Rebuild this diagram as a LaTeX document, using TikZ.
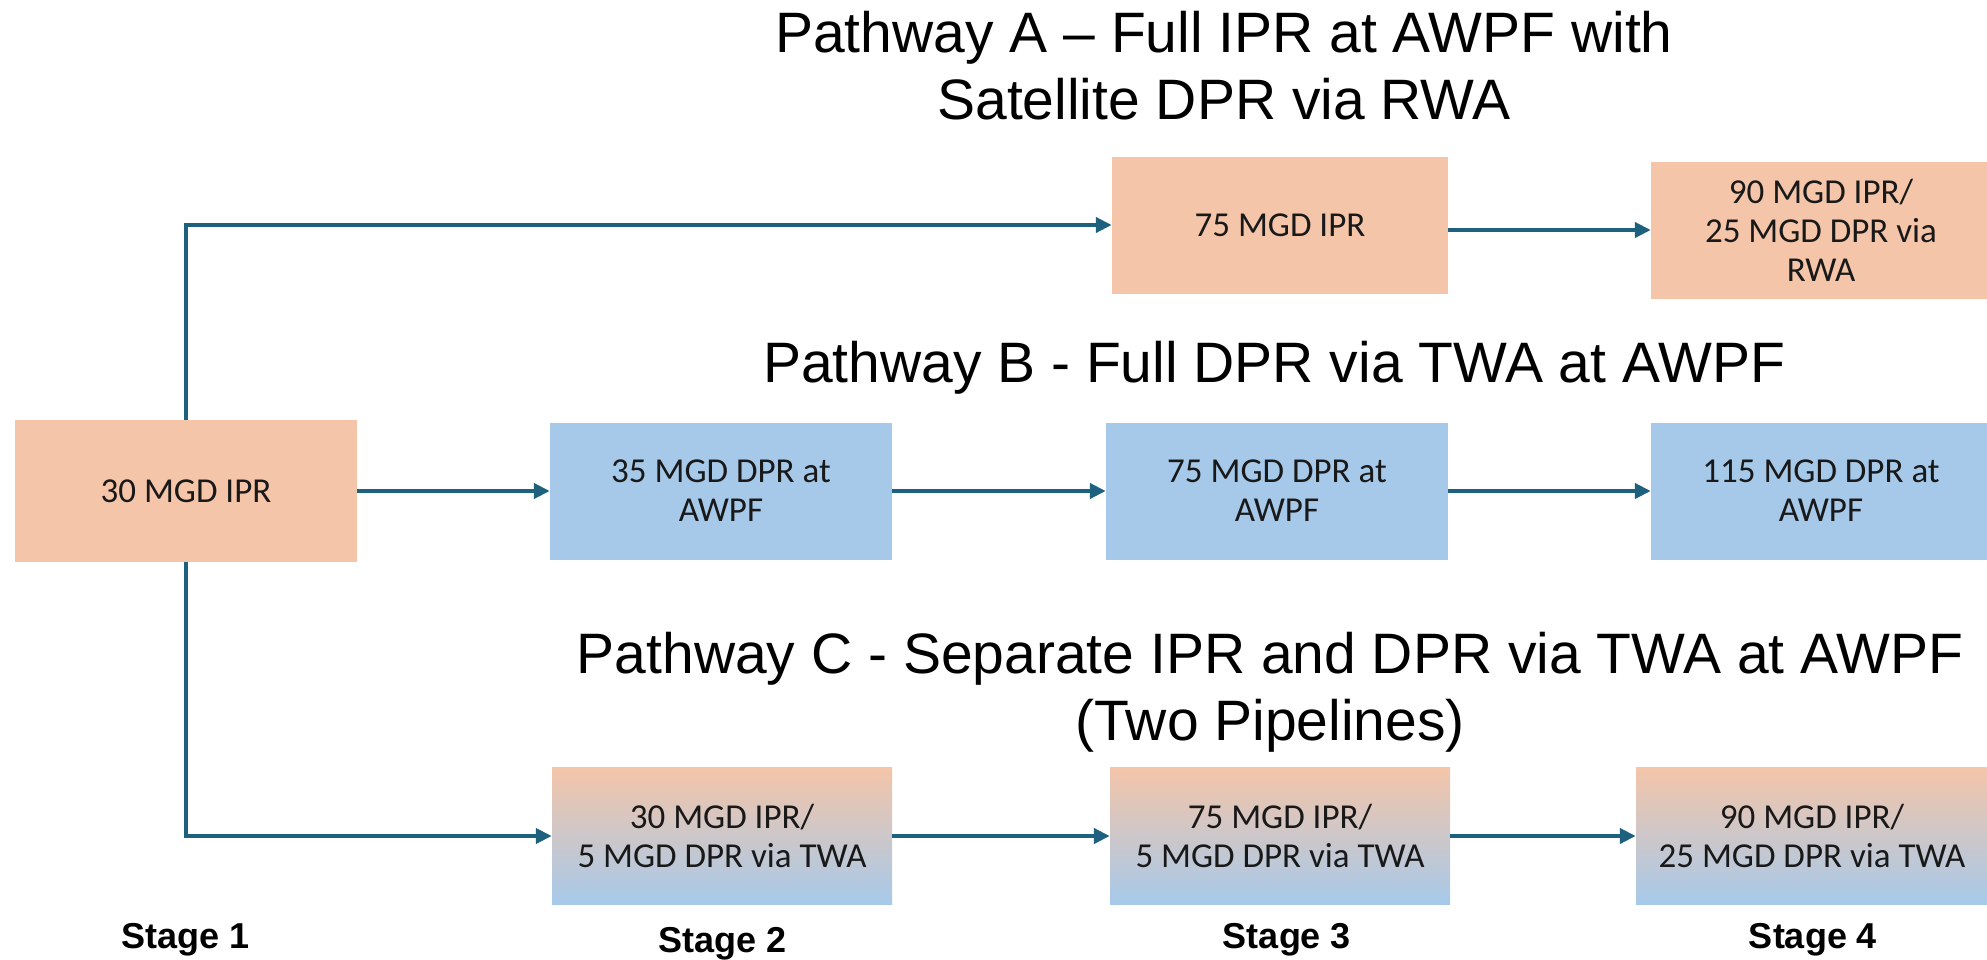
\documentclass[tikz,border=0pt]{standalone}
\usepackage{fontspec}
\setmainfont{Liberation Sans}
\newfontfamily\calib{Carlito}
\usetikzlibrary{arrows.meta}
\definecolor{peach}{HTML}{F4C5A9}
\definecolor{skyblue}{HTML}{A6C9EA}
\definecolor{flowline}{HTML}{1E617F}
\begin{document}
\begin{tikzpicture}[x=1pt,y=-1pt,
  stagebox/.style={minimum width=342pt,minimum height=137pt,inner sep=0pt,align=center,
    font=\calib\fontsize{35}{39}\selectfont,text=black!90},
  iprbox/.style={stagebox,fill=peach},
  dprbox/.style={stagebox,fill=skyblue},
  mixbox/.style={stagebox,top color=peach,bottom color=skyblue},
  heading/.style={align=center,inner sep=0pt,font=\fontsize{57}{67}\selectfont},
  stagelbl/.style={anchor=base,inner sep=0pt,font=\fontsize{36}{40}\selectfont\bfseries},
  flow/.style={line width=4.5pt,draw=flowline,-{Triangle[length=16pt,width=15pt]}}]
\useasboundingbox (0,0) rectangle (1987,959);

\node[heading,anchor=north] (pathA) at (1224,11) {Pathway A – Full IPR at AWPF with\\Satellite DPR via RWA};
\node[heading,anchor=base] (pathB) at (1274,382) {Pathway B - Full DPR via TWA at AWPF};
\node[heading,anchor=north] (pathC) at (1270,632) {Pathway C - Separate IPR and DPR via TWA at AWPF\\(Two Pipelines)};

\node[iprbox,minimum height=142pt] (ipr30) at (186,491) {30 MGD IPR};
\node[iprbox,minimum width=336pt] (ipr75) at (1280,225) {75 MGD IPR};
\node[iprbox,minimum width=340pt] (ipr90) at (1821,230) {90 MGD IPR/\\25 MGD DPR via\\RWA};

\node[dprbox] (dpr35) at (721,491) {35 MGD DPR at\\AWPF};
\node[dprbox] (dpr75) at (1277,491) {75 MGD DPR at\\AWPF};
\node[dprbox,minimum width=340pt] (dpr115) at (1821,491) {115 MGD DPR at\\AWPF};

\node[mixbox,minimum width=340pt] (twa30) at (722,836) {30 MGD IPR/\\5 MGD DPR via TWA};
\node[mixbox,minimum width=340pt] (twa75) at (1280,836) {75 MGD IPR/\\5 MGD DPR via TWA};
\node[mixbox,minimum width=352pt] (twa90) at (1812,836) {90 MGD IPR/\\25 MGD DPR via TWA};

\node[stagelbl] (stage1) at (186,948) {Stage 1};
\node[stagelbl] (stage2) at (723,952) {Stage 2};
\node[stagelbl] (stage3) at (1287,948) {Stage 3};
\node[stagelbl] (stage4) at (1813,948) {Stage 4};

\draw[flow] (ipr30.north) |- (ipr75.west);
\draw[flow] (ipr75.east |- ipr90.west) -- (ipr90.west);

\draw[flow] (ipr30) -- (dpr35);
\draw[flow] (dpr35) -- (dpr75);
\draw[flow] (dpr75) -- (dpr115);

\draw[flow] (ipr30.south) |- (twa30.west);
\draw[flow] (twa30) -- (twa75);
\draw[flow] (twa75) -- (twa90);

\end{tikzpicture}
\end{document}
